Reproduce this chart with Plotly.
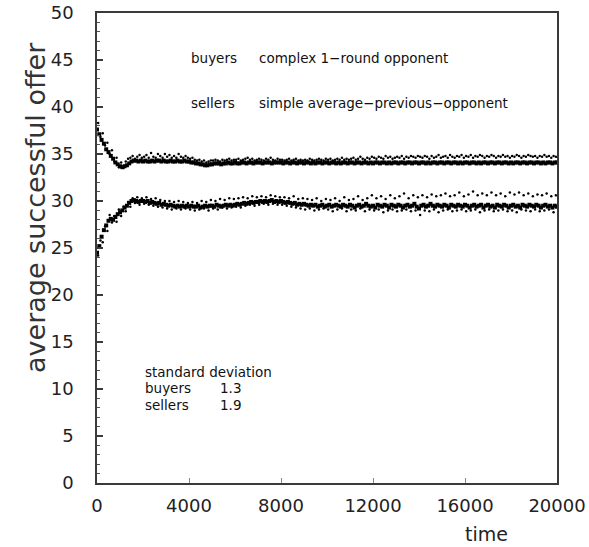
import plotly.graph_objects as go

# time points
t_core = list(range(0, 20001, 100))
t_scat = list(range(50, 20000, 100))

buyers_core = [
    37.6, 37.1, 36.5, 36.1, 35.5, 35.2, 34.8, 34.5, 34.1, 33.9,
    33.7, 33.6, 33.7, 33.8, 34.0, 34.2, 34.3, 34.3, 34.2, 34.3,
    34.2, 34.3, 34.2, 34.2, 34.3, 34.2, 34.3, 34.3, 34.2, 34.3,
    34.2, 34.2, 34.3, 34.2, 34.2, 34.3, 34.2, 34.2, 34.3, 34.2,
    34.2, 34.1, 34.1, 34.0, 34.0, 33.9, 33.9, 33.8, 33.8, 33.9,
    33.9, 34.0, 34.0, 34.0, 33.9, 34.0, 34.0, 34.1, 34.0, 34.0,
    34.1, 34.0, 34.0, 34.1, 34.1, 34.0, 34.1, 34.1, 34.0, 34.1,
    34.1, 34.1, 34.0, 34.1, 34.1, 34.1, 34.0, 34.1, 34.1, 34.1,
    34.1, 34.0, 34.1, 34.1, 34.0, 34.1, 34.1, 34.0, 34.1, 34.1,
    34.0, 34.1, 34.1, 34.0, 34.1, 34.0, 34.1, 34.1, 34.0, 34.1,
    34.1, 34.0, 34.1, 34.1, 34.0, 34.1, 34.0, 34.1, 34.1, 34.0,
    34.1, 34.1, 34.0, 34.1, 34.1, 34.0, 34.1, 34.1, 34.0, 34.1,
    34.0, 34.1, 34.1, 34.0, 34.1, 34.1, 34.0, 34.1, 34.0, 34.1,
    34.1, 34.0, 34.1, 34.1, 34.0, 34.1, 34.1, 34.0, 34.1, 34.1,
    34.0, 34.1, 34.1, 34.0, 34.1, 34.0, 34.1, 34.1, 34.0, 34.1,
    34.1, 34.0, 34.1, 34.1, 34.0, 34.1, 34.1, 34.0, 34.1, 34.0,
    34.1, 34.1, 34.0, 34.1, 34.1, 34.0, 34.1, 34.0, 34.1, 34.1,
    34.0, 34.1, 34.1, 34.0, 34.1, 34.1, 34.0, 34.1, 34.1, 34.0,
    34.1, 34.0, 34.1, 34.1, 34.0, 34.1, 34.1, 34.0, 34.1, 34.1,
    34.0, 34.1, 34.1, 34.0, 34.1, 34.0, 34.1, 34.1, 34.0, 34.1,
    34.1,
]

buyers_scatter = [
    38.3, 36.8, 37.2, 35.9, 36.2, 35.0, 35.4, 34.2, 34.6, 33.6,
    34.1, 33.5, 34.2, 34.5, 34.6, 34.8, 34.5, 34.7, 34.9, 34.6,
    34.7, 34.9, 34.6, 35.1, 34.7, 34.6, 35.0, 34.8, 34.6, 35.0,
    34.7, 34.9, 34.6, 34.8, 34.6, 35.0, 34.7, 34.6, 34.8, 34.6,
    34.5, 34.6, 34.4, 34.3, 34.4, 34.2, 34.3, 34.1, 34.2, 34.3,
    34.3, 34.4, 34.3, 34.2, 34.4, 34.3, 34.4, 34.5, 34.3, 34.4,
    34.4, 34.5, 34.3, 34.4, 34.5, 34.6, 34.4, 34.5, 34.3, 34.4,
    34.5, 34.4, 34.3, 34.5, 34.4, 34.6, 34.4, 34.3, 34.5, 34.4,
    34.4, 34.3, 34.4, 34.5, 34.3, 34.4, 34.5, 34.3, 34.4, 34.3,
    34.4, 34.3, 34.5, 34.4, 34.3, 34.4, 34.5, 34.4, 34.3, 34.5,
    34.4, 34.5, 34.3, 34.4, 34.5, 34.4, 34.6, 34.4, 34.5, 34.4,
    34.5, 34.6, 34.4, 34.5, 34.7, 34.5, 34.4, 34.6, 34.5, 34.7,
    34.6, 34.5, 34.7, 34.6, 34.5, 34.8, 34.6, 34.7, 34.5, 34.6,
    34.7, 34.6, 34.8, 34.5, 34.7, 34.6, 34.8, 34.7, 34.6, 34.8,
    34.7, 34.6, 34.8, 34.7, 34.5, 34.8, 34.6, 34.7, 34.9, 34.6,
    34.7, 34.8, 34.6, 34.9, 34.7, 34.6, 34.8, 34.7, 34.9, 34.6,
    34.8, 34.7, 34.9, 34.6, 34.8, 34.7, 34.9, 34.8, 34.6, 34.8,
    34.7, 34.9, 34.8, 34.6, 34.8, 34.7, 34.9, 34.7, 34.8, 34.6,
    34.8, 34.7, 34.9, 34.8, 34.6, 34.8, 34.7, 34.9, 34.8, 34.7,
    34.8, 34.6, 34.8, 34.7, 34.9, 34.7, 34.8, 34.6, 34.8, 34.7,
]

sellers_core = [
    24.5, 25.2, 26.2, 26.9, 27.4, 27.9, 28.1, 28.0, 28.3, 28.6,
    28.8, 29.0, 29.3, 29.5, 29.8, 30.0, 30.1, 30.0, 29.9, 30.0,
    30.0, 29.9, 30.0, 29.8, 29.9, 29.8, 29.7, 29.8, 29.6, 29.7,
    29.6, 29.5, 29.6, 29.5, 29.4, 29.5, 29.4, 29.5, 29.4, 29.5,
    29.4, 29.5, 29.4, 29.4, 29.5, 29.3, 29.4, 29.5, 29.4, 29.5,
    29.5, 29.4, 29.6, 29.5, 29.4, 29.5, 29.6, 29.5, 29.6, 29.5,
    29.6, 29.7, 29.6, 29.7, 29.8, 29.7, 29.8, 29.9, 29.8, 29.9,
    29.9, 30.0, 29.9, 30.0, 29.9, 30.0, 30.1, 29.9, 30.0, 29.9,
    30.0, 29.9, 29.8, 29.9, 29.8, 29.7, 29.8, 29.6, 29.7, 29.6,
    29.7, 29.6, 29.5, 29.6, 29.5, 29.6, 29.4, 29.5, 29.6, 29.4,
    29.5, 29.6, 29.4, 29.5, 29.6, 29.5, 29.4, 29.6, 29.5, 29.4,
    29.6, 29.5, 29.3, 29.5, 29.6, 29.4, 29.5, 29.7, 29.5, 29.4,
    29.5, 29.3, 29.6, 29.5, 29.4, 29.6, 29.5, 29.3, 29.6, 29.5,
    29.4, 29.6, 29.5, 29.3, 29.5, 29.6, 29.4, 29.5, 29.7, 29.4,
    29.2, 29.5, 29.6, 29.4, 29.5, 29.7, 29.5, 29.4, 29.6, 29.5,
    29.4, 29.6, 29.5, 29.3, 29.6, 29.5, 29.4, 29.6, 29.5, 29.4,
    29.6, 29.5, 29.3, 29.5, 29.6, 29.4, 29.5, 29.6, 29.3, 29.5,
    29.6, 29.4, 29.5, 29.3, 29.6, 29.5, 29.4, 29.6, 29.5, 29.3,
    29.5, 29.6, 29.4, 29.5, 29.3, 29.6, 29.5, 29.4, 29.6, 29.5,
    29.4, 29.6, 29.5, 29.3, 29.5, 29.6, 29.4, 29.5, 29.3, 29.5,
    29.4,
]

sellers_scatter = [
    24.2, 25.8, 25.6, 27.3, 26.8, 28.5, 27.7, 28.4, 27.8, 29.1,
    28.4, 29.4, 28.9, 29.9, 29.4, 30.3, 29.8, 30.4, 29.6, 30.3,
    29.7, 30.4, 29.6, 30.2, 29.5, 30.3, 29.4, 30.1, 29.3, 30.0,
    29.2, 30.0, 29.1, 29.9, 29.2, 30.0, 29.1, 29.9, 29.2, 29.8,
    29.1, 29.9, 29.0, 29.8, 29.1, 30.0, 29.2, 29.9, 29.0, 30.1,
    29.2, 30.0, 29.1, 30.2, 29.3, 30.1, 29.2, 30.3, 29.3, 30.2,
    29.4, 30.3, 29.3, 30.4, 29.5, 30.3, 29.6, 30.5, 29.5, 30.4,
    29.6, 30.5, 29.7, 30.4, 29.6, 30.6, 29.7, 30.5, 29.6, 30.4,
    29.6, 30.4, 29.5, 30.3, 29.4, 30.5, 29.3, 30.2, 29.2, 30.3,
    29.1, 30.2, 29.2, 30.1, 29.0, 30.3, 29.1, 30.0, 29.2, 30.2,
    29.1, 30.1, 28.9, 30.3, 29.1, 30.0, 29.2, 30.4, 28.9, 30.1,
    29.1, 30.2, 29.0, 30.5, 29.2, 30.1, 28.9, 30.3, 29.1, 30.6,
    29.0, 30.3, 29.1, 30.5, 28.8, 30.2, 29.0, 30.6, 29.1, 30.3,
    28.9, 30.5, 29.0, 30.8, 29.1, 30.3, 28.9, 30.6, 29.0, 30.4,
    28.5, 30.6, 29.0, 30.4, 28.9, 30.7, 29.1, 30.5, 28.8, 30.6,
    29.0, 30.8, 29.1, 30.5, 28.9, 30.6, 29.0, 30.9, 29.1, 30.5,
    28.9, 30.7, 29.0, 31.0, 29.1, 30.6, 28.8, 30.8, 29.0, 30.6,
    29.1, 30.9, 28.9, 30.6, 29.0, 30.8, 29.1, 30.5, 28.9, 30.9,
    29.0, 30.7, 28.8, 30.9, 29.1, 30.6, 29.0, 30.8, 28.9, 30.5,
    29.1, 30.7, 28.9, 30.6, 29.0, 30.8, 29.1, 30.5, 28.8, 30.6,
]

x_tickvals = [0, 4000, 8000, 12000, 16000, 20000]
y_tickvals = [0, 5, 10, 15, 20, 25, 30, 35, 40, 45, 50]

FONT = "DejaVu Sans"
AX = "#3a3a3a"

fig = go.Figure()
for xs, ys, sym, sz in [
    (t_core, buyers_core, "square", 4),
    (t_scat, buyers_scatter, "circle", 2.5),
    (t_core, sellers_core, "square", 4),
    (t_scat, sellers_scatter, "circle", 2.5),
]:
    fig.add_trace(go.Scatter(
        x=xs, y=ys, mode="markers",
        marker=dict(symbol=sym, size=sz, color="black", line=dict(width=0)),
        showlegend=False, hoverinfo="skip",
    ))

fig.update_layout(
    width=589, height=547,
    margin=dict(l=97, r=32, t=13, b=64, autoexpand=False),
    paper_bgcolor="white", plot_bgcolor="white",
    font=dict(family=FONT, color="#111"),
    showlegend=False,
)
fig.update_xaxes(
    range=[0, 20000], tickvals=x_tickvals,
    ticktext=[str(v) for v in x_tickvals],
    ticks="inside", ticklen=5, tickwidth=1, tickcolor="#888",
    showline=True, linecolor=AX, linewidth=1.6, mirror=True,
    showgrid=False, zeroline=False, automargin=False,
    tickfont=dict(family=FONT, size=18, color="#222"),
    ticklabelstandoff=6,
)
fig.update_yaxes(
    range=[0, 50], tickvals=y_tickvals,
    ticks="inside", ticklen=6, tickwidth=1.5, tickcolor=AX,
    minor=dict(dtick=1, ticks="inside", ticklen=3, tickcolor="#555", tickwidth=1),
    showline=True, linecolor=AX, linewidth=1.6, mirror=True,
    showgrid=False, zeroline=False, automargin=False,
    tickfont=dict(family=FONT, size=18, color="#222"),
    ticklabelstandoff=18,
)

def note(x, y, text, size=13.5, anchor="left", angle=0, color="#111"):
    fig.add_annotation(
        x=x, y=y, xref="paper", yref="paper", text=text, showarrow=False,
        xanchor=anchor, yanchor="middle", textangle=angle,
        font=dict(family=FONT, size=size, color=color),
    )

# px -> paper helpers
def px_x(px):
    return (px - 97) / 460.0

def px_y(py):
    return (483 - py) / 470.0

note(px_x(189), px_y(58), "buyers")
note(px_x(257), px_y(58), "complex 1\u2212round opponent")
note(px_x(189), px_y(103), "sellers")
note(px_x(257), px_y(103), "simple average\u2212previous\u2212opponent")
note(px_x(143), px_y(372), "standard deviation")
note(px_x(143), px_y(388), "buyers")
note(px_x(218), px_y(388), "1.3")
note(px_x(143), px_y(405), "sellers")
note(px_x(218), px_y(405), "1.9")

note(px_x(35), px_y(208), "average successful offer", size=27, anchor="center", angle=-90, color="#333")
note(px_x(486), px_y(534), "time", size=19, anchor="center", color="#222")

fig.write_html("out.html")
